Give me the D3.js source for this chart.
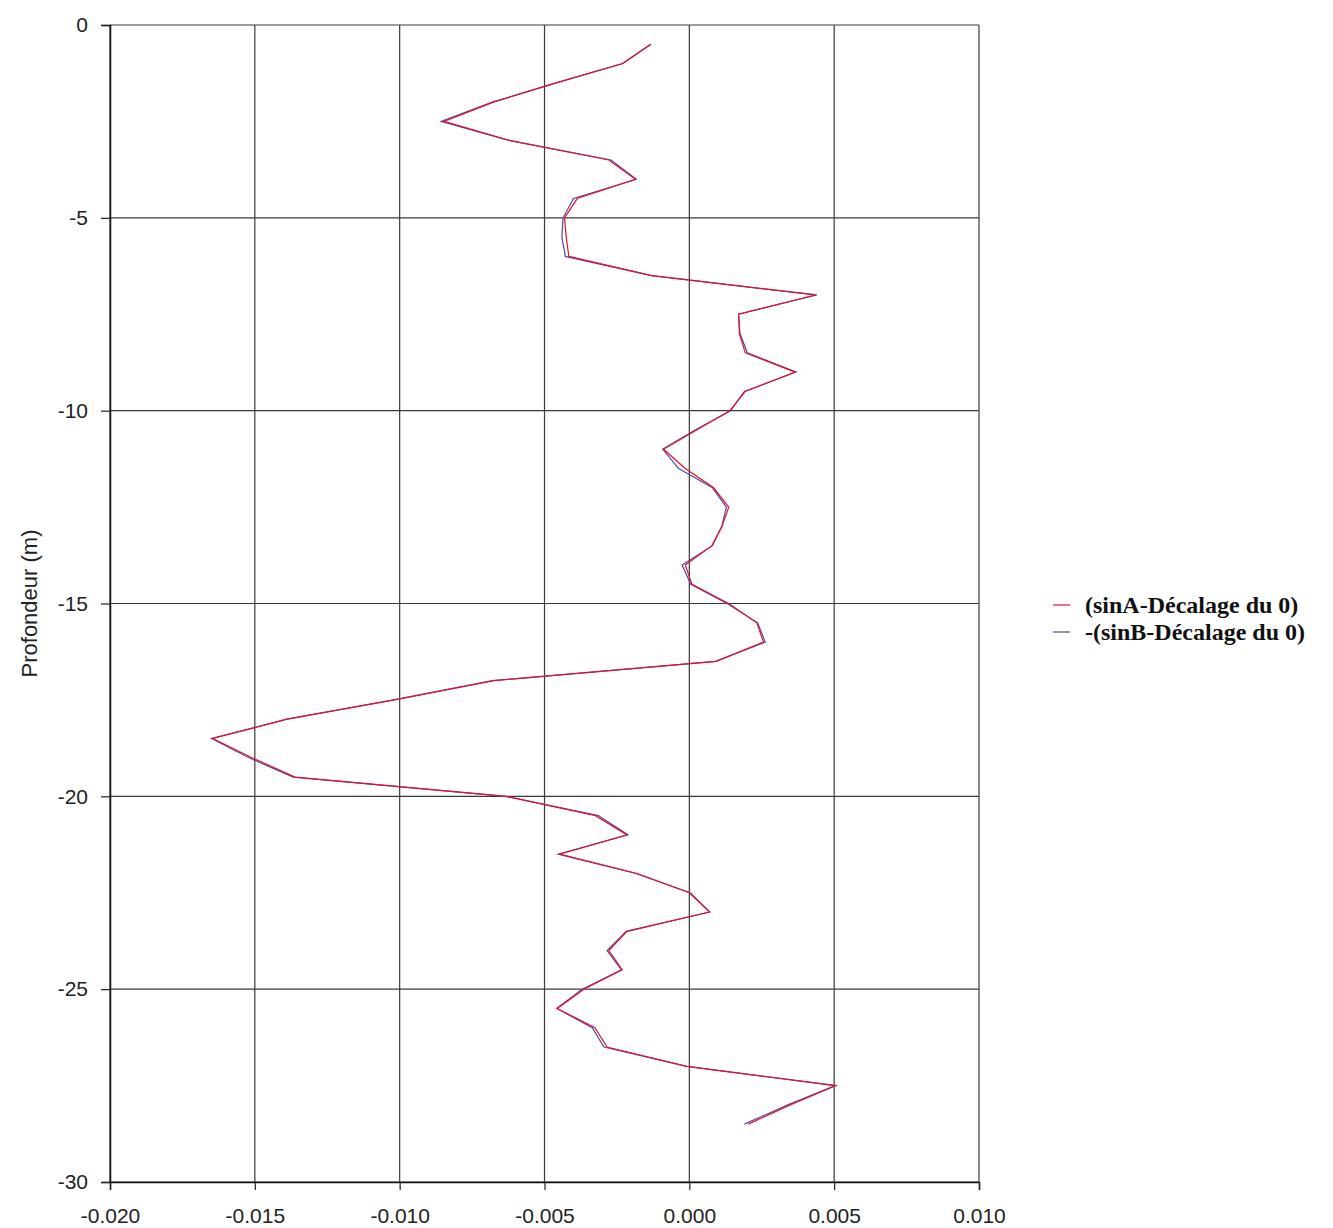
<!DOCTYPE html>
<html>
<head>
<meta charset="utf-8">
<script src="https://cdn.jsdelivr.net/npm/d3@7"></script>
<style>
  body { margin: 0; background: #fff; }
</style>
</head>
<body>
<div class="profileChart"></div>
<script>
// depth (m), one point every 0.5 m
var depths = [-0.5,-1,-1.5,-2,-2.5,-3,-3.5,-4,-4.5,-5,-5.5,-6,-6.5,-7,-7.5,-8,-8.5,-9,-9.5,-10,
              -10.5,-11,-11.5,-12,-12.5,-13,-13.5,-14,-14.5,-15,-15.5,-16,-16.5,-17,-17.5,-18,-18.5,-19,-19.5,-20,
              -20.5,-21,-21.5,-22,-22.5,-23,-23.5,-24,-24.5,-25,-25.5,-26,-26.5,-27,-27.5,-28,-28.5];

var sinA = [-0.00132,-0.00229,-0.0046,-0.00676,-0.00847,-0.00617,-0.00278,-0.00186,-0.00387,-0.00431,
            -0.00425,-0.00416,-0.0013,0.00434,0.0017,0.00173,0.00193,0.00366,0.00193,0.0014,
            0.00025,-0.00089,-0.00014,0.00084,0.00136,0.00113,0.00078,-0.00014,0.00009,0.00136,
            0.00233,0.00256,0.00093,-0.00674,-0.01018,-0.01388,-0.01645,-0.0151,-0.01361,-0.0063,
            -0.00324,-0.00215,-0.00448,-0.0018,0.0,0.0007,-0.00215,-0.00278,-0.00232,-0.00364,
            -0.00456,-0.00326,-0.00284,-0.00008,0.00506,0.00348,0.00204];

var sinB = [-0.00134,-0.00231,-0.0046,-0.0068,-0.00857,-0.0062,-0.0027,-0.00183,-0.004,-0.00436,
            -0.0044,-0.00428,-0.0013,0.0044,0.0017,0.00175,0.002,0.00368,0.0019,0.00142,
            0.0002,-0.00092,-0.00037,0.0008,0.00128,0.00112,0.0008,-0.00025,0.00005,0.0013,
            0.00236,0.00262,0.0009,-0.0068,-0.0102,-0.0139,-0.0165,-0.0152,-0.01368,-0.00636,
            -0.00314,-0.00212,-0.00452,-0.00185,0.00003,0.0007,-0.00218,-0.00284,-0.00234,-0.0037,
            -0.00458,-0.00335,-0.00295,-0.0001,0.00504,0.0034,0.0019];

var xTicks = [-0.020,-0.015,-0.010,-0.005,0.000,0.005,0.010];
var yTicks = [0,-5,-10,-15,-20,-25,-30];

var seriesNames = ["(sinA-Décalage du 0)", "-(sinB-Décalage du 0)"];
var seriesColors = ["#e8102c", "#4b4ca6"];

plotProfile();

function plotProfile(){
  var margin = {top: 25, right: 354, bottom: 46, left: 110},
      width = 1333 - margin.left - margin.right,
      height = 1228 - margin.top - margin.bottom;

  var svg = d3.select(".profileChart")
              .append("svg")
              .attr("width", 1333)
              .attr("height", 1228);

  var g = svg.append("g").attr("transform", "translate(" + margin.left + "," + margin.top + ")");

  var x = d3.scaleLinear().domain([-0.020, 0.010]).range([0, width]);
  var y = d3.scaleLinear().domain([-30, 0]).range([height, 0]);

  // grid
  g.selectAll(".vgrid").data(xTicks).enter().append("line")
    .attr("x1", function(d){ return x(d); }).attr("x2", function(d){ return x(d); })
    .attr("y1", 0).attr("y2", height)
    .attr("stroke", "#3a3a3a").attr("stroke-width", 1.2);
  g.selectAll(".hgrid").data(yTicks).enter().append("line")
    .attr("y1", function(d){ return y(d); }).attr("y2", function(d){ return y(d); })
    .attr("x1", 0).attr("x2", width)
    .attr("stroke", "#3a3a3a").attr("stroke-width", 1.2);

  // axes
  var xAxis = d3.axisBottom(x).tickValues(xTicks).tickSize(8).tickPadding(18);
  var yAxis = d3.axisLeft(y).tickValues(yTicks).tickSize(9).tickPadding(13);

  var gx = g.append("g").attr("transform", "translate(0," + height + ")").call(xAxis);
  var gy = g.append("g").call(yAxis);

  [gx, gy].forEach(function(ax){
    ax.select(".domain").attr("stroke", "#111").attr("stroke-width", 1.5);
    ax.selectAll(".tick line").attr("stroke", "#222").attr("stroke-width", 1.2);
    ax.selectAll("text")
      .style("font-family", "Liberation Sans, Arial, sans-serif")
      .style("font-size", "21px")
      .attr("fill", "#222");
  });
  gx.selectAll("text").text(function(d){ return d3.format(".3f")(d).replace("−", "-"); });
  gy.selectAll("text").text(function(d){ return String(d); });

  g.append("text")
    .attr("transform", "rotate(-90)")
    .attr("x", -y(-15))
    .attr("y", -73)
    .attr("text-anchor", "middle")
    .style("font-family", "Liberation Sans, Arial, sans-serif")
    .style("font-size", "22px")
    .attr("fill", "#222")
    .text("Profondeur (m)");

  // lines: blue first, red on top
  var lineB = d3.line().x(function(d, i){ return x(sinB[i]); }).y(function(d){ return y(d); });
  var lineA = d3.line().x(function(d, i){ return x(sinA[i]); }).y(function(d){ return y(d); });

  g.append("path").datum(depths)
    .attr("fill", "none").attr("stroke", seriesColors[1]).attr("stroke-width", 1.2)
    .attr("d", lineB);
  g.append("path").datum(depths)
    .attr("fill", "none").attr("stroke", seriesColors[0]).attr("stroke-width", 1.2)
    .attr("d", lineA);

  // legend
  var legend = svg.append("g").attr("transform", "translate(1053,605)");
  var rows = legend.selectAll(".row").data(seriesNames).enter().append("g")
    .attr("transform", function(d, i){ return "translate(0," + (i * 27) + ")"; });
  rows.append("line")
    .attr("x1", 0).attr("x2", 17).attr("y1", 0).attr("y2", 0)
    .attr("stroke", function(d, i){ return seriesColors[i]; }).attr("stroke-width", 1.2);
  rows.append("text")
    .attr("x", 32).attr("y", 0).attr("dy", "0.33em")
    .style("font-family", "Liberation Serif, Times New Roman, serif")
    .style("font-weight", "bold")
    .style("font-size", "24px")
    .attr("fill", "#111")
    .text(function(d){ return d; });
}
</script>
</body>
</html>
